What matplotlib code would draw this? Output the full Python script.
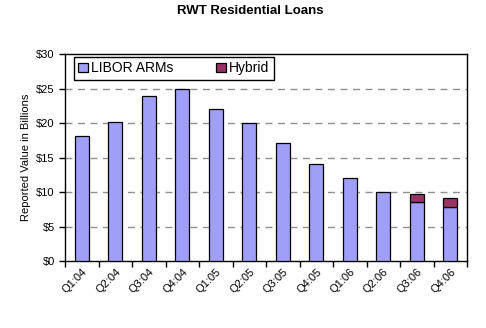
import matplotlib
matplotlib.use("Agg")
import matplotlib.pyplot as plt
import numpy as np

plt.rcParams['font.family'] = ['Liberation Sans', 'DejaVu Sans']

quarters = ["Q1:04", "Q2:04", "Q3:04", "Q4:04", "Q1:05", "Q2:05",
            "Q3:05", "Q4:05", "Q1:06", "Q2:06", "Q3:06", "Q4:06"]
libor = [18.1, 20.2, 24.0, 24.9, 22.0, 20.0, 17.1, 14.1, 12.0, 10.0, 8.5, 7.8]
hybrid = [0, 0, 0, 0, 0, 0, 0, 0, 0, 0, 1.2, 1.4]

fig = plt.figure(figsize=(4.86, 3.28), dpi=100)
ax = fig.add_axes([0.134, 0.204, 0.827, 0.631])

x = np.arange(len(quarters))
w = 0.42
ax.bar(x, libor, w, color="#9f9ff8", edgecolor="black", linewidth=0.9,
       label="LIBOR ARMs", zorder=3)
hb = np.array(hybrid)
ax.bar(x[hb > 0], hb[hb > 0], w, bottom=np.array(libor)[hb > 0],
       color="#993366", edgecolor="black", linewidth=0.9, label="Hybrid", zorder=3)

ax.set_xlim(-0.5, len(quarters) - 0.5)
ax.set_ylim(0, 30)
ax.set_yticks(range(0, 31, 5))
ax.set_yticklabels(["$%d" % v for v in range(0, 31, 5)], fontsize=8)
ax.set_xticks(x)
ax.set_xticklabels(quarters, rotation=45, ha="right", rotation_mode="anchor", fontsize=8)
ax.tick_params(axis="x", length=0, pad=4)
ax.set_xticks(np.arange(-0.5, len(quarters)), minor=True)
ax.tick_params(axis="x", which="minor", length=4, direction="out", width=1)
ax.tick_params(axis="y", length=4, direction="out", width=1)
for v in range(5, 30, 5):
    ax.axhline(v, color="#909090", linestyle=(0, (5, 4)), linewidth=1, zorder=1)
for s in ax.spines.values():
    s.set_linewidth(1)

ax.set_ylabel("Reported Value in Billions", fontsize=8)
fig.text(0.514, 0.966, "RWT Residential Loans", fontsize=9.5, fontweight="bold",
         ha="center", va="center")

ax.legend(loc="upper left", bbox_to_anchor=(0.022, 0.986), borderaxespad=0,
          ncol=2, fontsize=10, frameon=True, fancybox=False,
          edgecolor="black", framealpha=1, handlelength=0.7, handleheight=0.7,
          handletextpad=0.2, columnspacing=3.1, borderpad=0.32)

fig.savefig("out.png", dpi=100)
